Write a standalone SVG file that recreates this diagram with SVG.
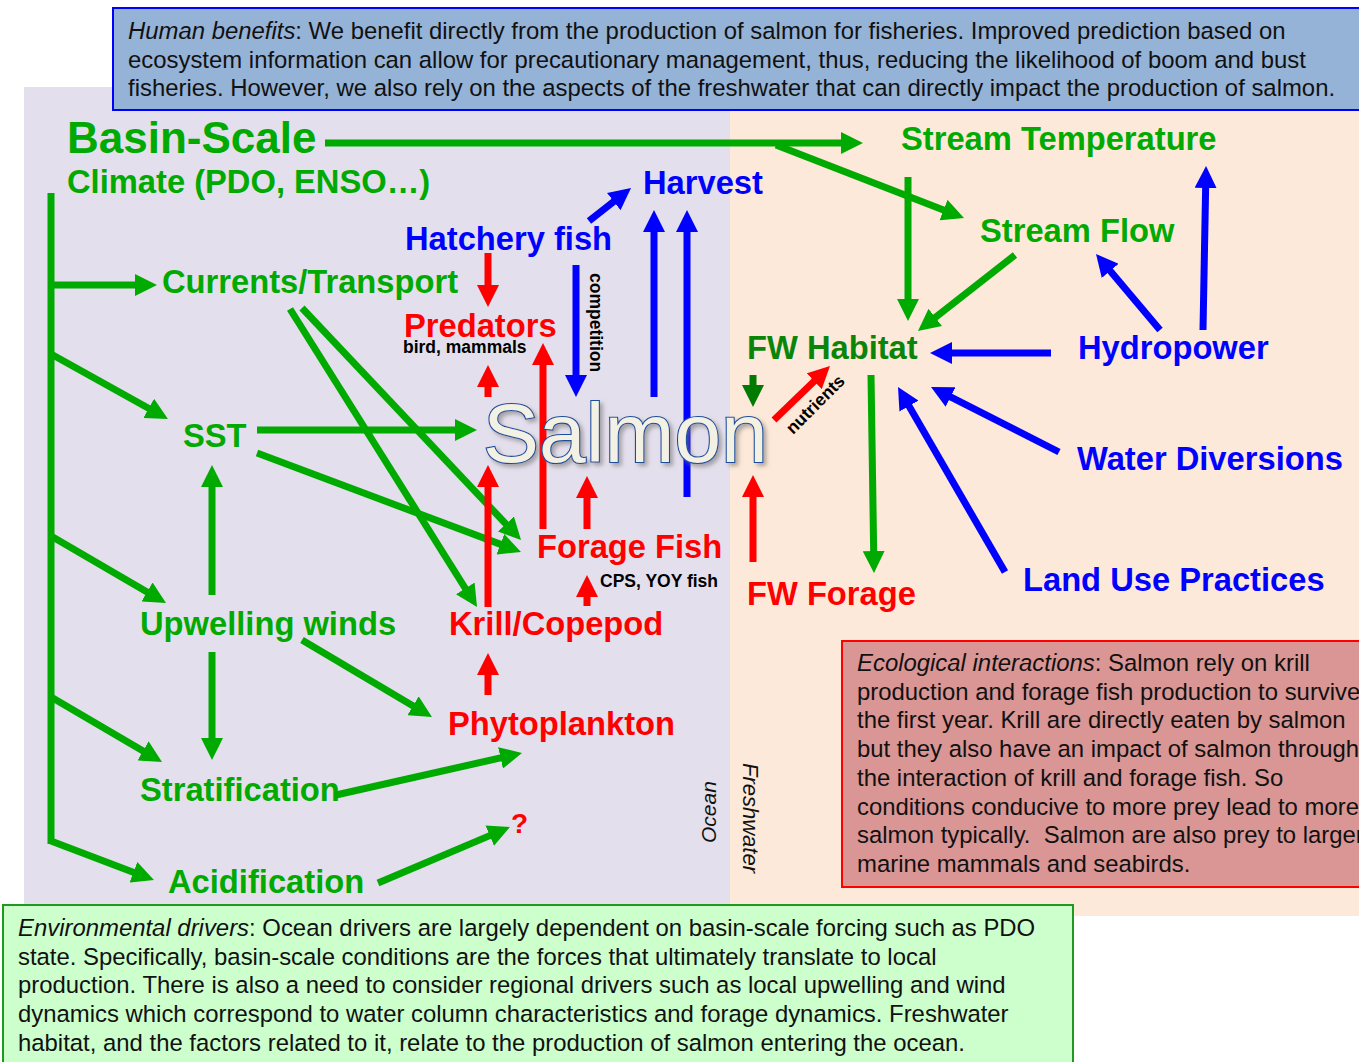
<svg xmlns="http://www.w3.org/2000/svg" width="1359" height="1062" viewBox="0 0 1359 1062">
<style>
text{font-family:"Liberation Sans",Arial,sans-serif}
.n{font-weight:bold;font-size:32.7px}
.g{fill:#00aa00}.dg{fill:#0a850a}.b{fill:#0000ff}.r{fill:#ff0000}.k{fill:#000}
.s{font-weight:bold;font-size:17.5px;fill:#000}
.t{font-size:23.9px;fill:#111}
.it{font-style:italic}
.lg{stroke:#00aa00;stroke-width:7;fill:none}
.ldg{stroke:#007a00;stroke-width:7;fill:none}
.lr{stroke:#ff0000;stroke-width:7;fill:none}
.lb{stroke:#0000ff;stroke-width:7;fill:none}
</style>
<defs>
<marker id="ag" markerUnits="userSpaceOnUse" markerWidth="22" markerHeight="22" viewBox="0 0 22 22" refX="9" refY="11" orient="auto"><path d="M0,0 L22,11 L0,22 z" fill="#00aa00"/></marker>
<marker id="adg" markerUnits="userSpaceOnUse" markerWidth="22" markerHeight="22" viewBox="0 0 22 22" refX="9" refY="11" orient="auto"><path d="M0,0 L22,11 L0,22 z" fill="#007a00"/></marker>
<marker id="ar" markerUnits="userSpaceOnUse" markerWidth="22" markerHeight="22" viewBox="0 0 22 22" refX="9" refY="11" orient="auto"><path d="M0,0 L22,11 L0,22 z" fill="#ff0000"/></marker>
<marker id="ab" markerUnits="userSpaceOnUse" markerWidth="22" markerHeight="22" viewBox="0 0 22 22" refX="9" refY="11" orient="auto"><path d="M0,0 L22,11 L0,22 z" fill="#0000ff"/></marker>
<filter id="sh" x="-10%" y="-10%" width="130%" height="140%"><feDropShadow dx="3" dy="3" stdDeviation="2" flood-color="#777" flood-opacity="0.6"/></filter>
</defs>
<rect width="1359" height="1062" fill="#ffffff"/>
<g id="backgrounds">
<rect x="24" y="87" width="706" height="820" fill="#e4dfec"/>
<rect x="730" y="87" width="629" height="829" fill="#fde9d9"/>
</g>
<g id="human-benefits">
<rect x="113" y="8" width="1252" height="102" fill="#95b3d7" stroke="#0000ff" stroke-width="2"/>
<text class="t" x="128" y="39"><tspan class="it">Human benefits</tspan>: We benefit directly from the production of salmon for fisheries. Improved prediction based on</text>
<text class="t" x="128" y="67.7">ecosystem information can allow for precautionary management, thus, reducing the likelihood of boom and bust</text>
<text class="t" x="128" y="96.4">fisheries. However, we also rely on the aspects of the freshwater that can directly impact the production of salmon.</text>
</g>
<g id="ecological-interactions">
<rect x="842" y="641" width="525" height="246" fill="#d99694" stroke="#ff0000" stroke-width="2"/>
<text class="t" x="857" y="671"><tspan class="it">Ecological interactions</tspan>: Salmon rely on krill</text>
<text class="t" x="857" y="699.7">production and forage fish production to survive</text>
<text class="t" x="857" y="728.4">the first year. Krill are directly eaten by salmon</text>
<text class="t" x="857" y="757.1">but they also have an impact of salmon through</text>
<text class="t" x="857" y="785.8">the interaction of krill and forage fish. So</text>
<text class="t" x="857" y="814.5">conditions conducive to more prey lead to more</text>
<text class="t" x="857" y="843.2">salmon typically. &#160;Salmon are also prey to larger</text>
<text class="t" x="857" y="871.9">marine mammals and seabirds.</text>
</g>
<g id="environmental-drivers">
<rect x="3" y="905" width="1070" height="162" fill="#ccffcc" stroke="#1f9a1f" stroke-width="2"/>
<text class="t" x="18" y="936"><tspan class="it">Environmental drivers</tspan>: Ocean drivers are largely dependent on basin-scale forcing such as PDO</text>
<text class="t" x="18" y="964.7">state. Specifically, basin-scale conditions are the forces that ultimately translate to local</text>
<text class="t" x="18" y="993.4">production. There is also a need to consider regional drivers such as local upwelling and wind</text>
<text class="t" x="18" y="1022.1">dynamics which correspond to water column characteristics and forage dynamics. Freshwater</text>
<text class="t" x="18" y="1050.8">habitat, and the factors related to it, relate to the production of salmon entering the ocean.</text>
</g>
<g id="connectors">
<g id="green-links">
<path class="lg" d="M325,143 L850,143" marker-end="url(#ag)"/>
<path class="lg" d="M776,145 L951.9,213.3" marker-end="url(#ag)"/>
<path class="lg" d="M51,193 L51,844"/>
<path class="lg" d="M51,285 L144,285" marker-end="url(#ag)"/>
<path class="lg" d="M51,354 L156.6,412.7" marker-end="url(#ag)"/>
<path class="lg" d="M51,536 L154.8,596.5" marker-end="url(#ag)"/>
<path class="lg" d="M51,697 L150.8,755.4" marker-end="url(#ag)"/>
<path class="lg" d="M51,841 L141.8,875.4" marker-end="url(#ag)"/>
<path class="lg" d="M257,430 L464,430" marker-end="url(#ag)"/>
<path class="lg" d="M257,453 L508.8,547.4" marker-end="url(#ag)"/>
<path class="lg" d="M302,308 L512.1,530.5" marker-end="url(#ag)"/>
<path class="lg" d="M290,309 L470.1,596" marker-end="url(#ag)"/>
<path class="lg" d="M212,595 L212,478" marker-end="url(#ag)"/>
<path class="lg" d="M212,652 L212,747" marker-end="url(#ag)"/>
<path class="lg" d="M302,640 L420.8,710.4" marker-end="url(#ag)"/>
<path class="lg" d="M336,795 L509.3,755.9" marker-end="url(#ag)"/>
<path class="lg" d="M378,883 L498,832.1" marker-end="url(#ag)"/>
<path class="lg" d="M908,177 L908,308" marker-end="url(#ag)"/>
<path class="lg" d="M1015,255 L928.2,323" marker-end="url(#ag)"/>
<path class="lg" d="M871,375 L873.8,560" marker-end="url(#ag)"/>
<path class="ldg" d="M753,375 L753,394" marker-end="url(#adg)"/>
</g>
<g id="red-links">
<path class="lr" d="M488,253 L488,294" marker-end="url(#ar)"/>
<path class="lr" d="M488,397 L488,378" marker-end="url(#ar)"/>
<path class="lr" d="M488,607 L488,478" marker-end="url(#ar)"/>
<path class="lr" d="M543,529 L543,356" marker-end="url(#ar)"/>
<path class="lr" d="M587,529 L587,489" marker-end="url(#ar)"/>
<path class="lr" d="M587,606 L587,588" marker-end="url(#ar)"/>
<path class="lr" d="M488,695 L488,666" marker-end="url(#ar)"/>
<path class="lr" d="M753,562 L753,488" marker-end="url(#ar)"/>
<path class="lr" d="M774,420 L820.6,375" marker-end="url(#ar)"/>
</g>
<g id="blue-links">
<path class="lb" d="M589,221 L620.8,196" marker-end="url(#ab)"/>
<path class="lb" d="M576,265 L576,384" marker-end="url(#ab)"/>
<path class="lb" d="M654,397 L654,223" marker-end="url(#ab)"/>
<path class="lb" d="M687,497 L687,223" marker-end="url(#ab)"/>
<path class="lb" d="M1051,353 L943,353" marker-end="url(#ab)"/>
<path class="lb" d="M1160,330 L1104.4,264" marker-end="url(#ab)"/>
<path class="lb" d="M1203,330 L1205.8,179" marker-end="url(#ab)"/>
<path class="lb" d="M1059,452 L942.6,392.9" marker-end="url(#ab)"/>
<path class="lb" d="M1005,572 L904.5,398.3" marker-end="url(#ab)"/>
</g>
<text class="s" transform="translate(590,273) rotate(90)">competition</text>
<text class="s" text-anchor="middle" transform="translate(819.5,408.5) rotate(-45)">nutrients</text>
</g>
<g id="basin-scale"><text class="n g" x="67" y="153" style="font-size:44px">Basin-Scale</text>
<text class="n g" x="67" y="193">Climate (PDO, ENSO…)</text></g>
<g id="harvest"><text class="n b" x="643" y="194">Harvest</text></g>
<g id="hatchery-fish"><text class="n b" x="405" y="250">Hatchery fish</text></g>
<g id="currents-transport"><text class="n g" x="162" y="293">Currents/Transport</text></g>
<g id="predators"><text class="n r" x="404" y="337">Predators</text>
<text class="s" x="403" y="353">bird, mammals</text></g>
<g id="sst"><text class="n g" x="183" y="447">SST</text></g>
<g id="salmon"><text x="483" y="462" filter="url(#sh)" style="font-size:84px;fill:#f3f0e4;stroke:#1f4e9a;stroke-width:2.2px;paint-order:stroke">Salmon</text></g>
<g id="forage-fish"><text class="n r" x="537" y="558">Forage Fish</text>
<text class="s" x="600" y="587">CPS, YOY fish</text></g>
<g id="upwelling-winds"><text class="n g" x="140" y="635">Upwelling winds</text></g>
<g id="krill-copepod"><text class="n r" x="449" y="635">Krill/Copepod</text></g>
<g id="phytoplankton"><text class="n r" x="448" y="735">Phytoplankton</text></g>
<g id="stratification"><text class="n g" x="140" y="801">Stratification</text></g>
<g id="unknown"><text class="n r" x="511" y="833" style="font-size:28px">?</text></g>
<g id="acidification"><text class="n g" x="168" y="893">Acidification</text></g>
<g id="stream-temperature"><text class="n g" x="901" y="150">Stream Temperature</text></g>
<g id="stream-flow"><text class="n g" x="980" y="242">Stream Flow</text></g>
<g id="fw-habitat"><text class="n dg" x="747" y="359">FW Habitat</text></g>
<g id="hydropower"><text class="n b" x="1078" y="359">Hydropower</text></g>
<g id="water-diversions"><text class="n b" x="1077" y="470">Water Diversions</text></g>
<g id="land-use"><text class="n b" x="1023" y="591">Land Use Practices</text></g>
<g id="fw-forage"><text class="n r" x="747" y="605">FW Forage</text></g>
<g id="region-labels">
<text class="it" transform="translate(716,843) rotate(-90)" style="font-size:21px;fill:#111">Ocean</text>
<text class="it" transform="translate(743,763) rotate(90)" style="font-size:22px;fill:#111">Freshwater</text>
</g>
</svg>
